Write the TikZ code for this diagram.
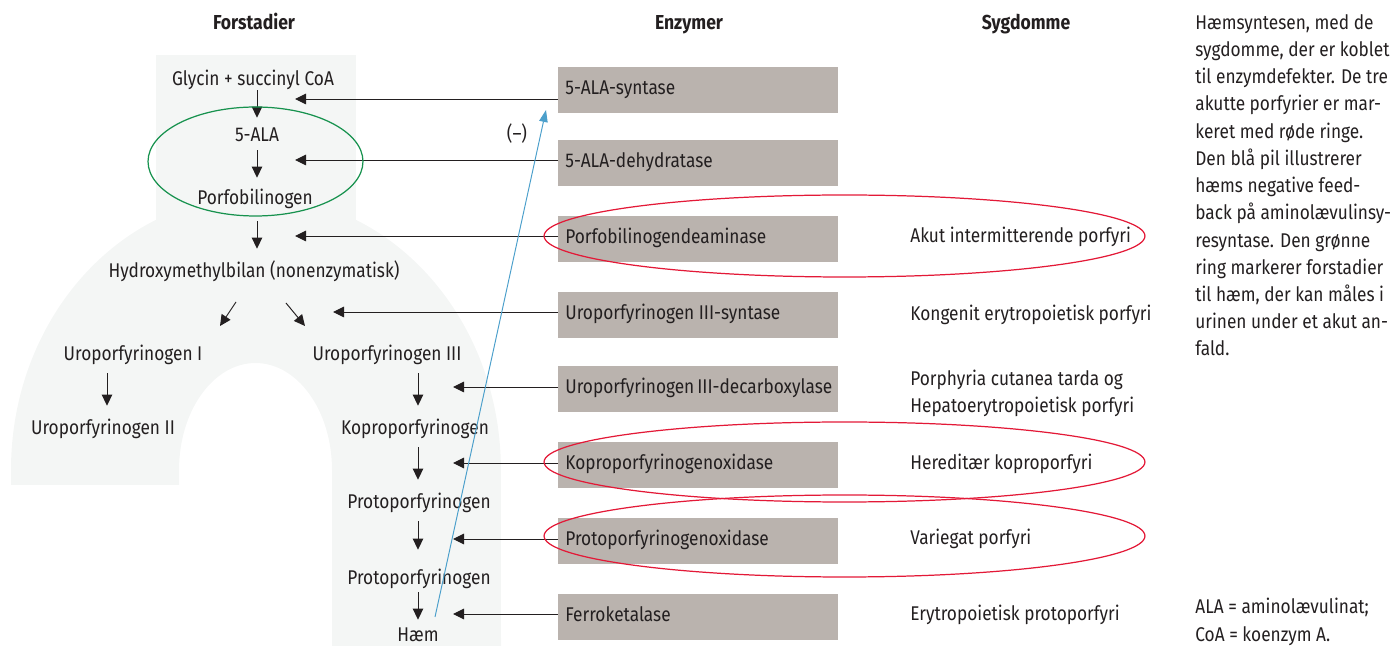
\documentclass[tikz,border=0pt]{standalone}
\usepackage{fontspec}
\setmainfont{Fira Sans}[FakeStretch=0.87]
\usetikzlibrary{arrows.meta,positioning}
\exhyphenpenalty=10000
\hyphenpenalty=10000
\hfuzz=20pt
\definecolor{bggrey}{HTML}{F4F6F5}
\definecolor{enzgrey}{HTML}{BAB3AE}
\definecolor{ringred}{HTML}{E31937}
\definecolor{ringgreen}{HTML}{17924E}
\definecolor{fbblue}{HTML}{4B9FCB}
\definecolor{ink}{HTML}{231F20}
\tikzset{
  txt/.style={inner sep=0pt, text=ink, font=\fontsize{11.3}{15.5}\selectfont, text height=0.28cm, text depth=0.08cm},
  head/.style={txt, font=\fontsize{11.5}{15.5}\selectfont\bfseries},
  precursor/.style={txt, anchor=base},
  disease/.style={txt, anchor=base west, align=flush left},
  enzbox/.style={txt, anchor=west, fill=enzgrey, minimum width=5.6cm, minimum height=0.92cm,
    text width=5.32cm, inner xsep=0.14cm, align=flush left},
  flow/.style={draw=ink, line width=0.55pt, -{Triangle[length=0.22cm,width=0.21cm]}},
  pathway/.style={flow, shorten <=0.16cm, shorten >=0.3cm},
  ring/.style={line width=0.7pt}
}
\begin{document}
\begin{tikzpicture}[x=0.02cm,y=0.02cm]
    \useasboundingbox (0,0) rectangle (1397,646);
    %background
    \fill[bggrey] (156,400) rectangle (356,591);
    \fill[bggrey] (11,161) -- (11,176) arc[start angle=180,end angle=0,x radius=4.9cm,y radius=5.48cm]
        -- (501,0) -- (332,0) -- (332,176) arc[start angle=0,end angle=180,x radius=1.53cm,y radius=2.14cm]
        -- (179,161) -- cycle;
    %headings
    \node[head, anchor=base] (hforst) at (254,616) {Forstadier};
    \node[head, anchor=base] (henz) at (689,616) {Enzymer};
    \node[head, anchor=base] (hsyg) at (1026,616) {Sygdomme};
    %precursors
    \node[precursor] (glycin) at (253,560) {Glycin + succinyl CoA};
    \node[precursor] (ala) at (257,504) {5-ALA};
    \node[precursor] (pbg) at (255,441) {Porfobilinogen};
    \node[precursor] (hmb) at (254,368) {Hydroxymethylbilan (nonenzymatisk)};
    \node[precursor] (uroI) at (133,285) {Uroporfyrinogen I};
    \node[precursor] (uroIII) at (387,285) {Uroporfyrinogen III};
    \node[precursor] (uroII) at (103,211) {Uroporfyrinogen II};
    \node[precursor] (kopro) at (415,211) {Koproporfyrinogen};
    \node[precursor] (protoA) at (419,137) {Protoporfyrinogen};
    \node[precursor] (protoB) at (419,61) {Protoporfyrinogen};
    \node[precursor] (haem) at (418,4) {Hæm};
    %pathway arrows
    \draw[pathway, shorten <=0cm, shorten >=0.2cm] (glycin.south -| ala) -- (ala.north);
    \draw[pathway, shorten <=0.08cm, shorten >=0.26cm] (ala.south) -- (ala.south |- pbg.north);
    \draw[pathway, shorten <=0.24cm] (pbg.south -| ala) -- (hmb.north -| ala);
    \draw[flow] ([xshift=-0.36cm,yshift=-0.48cm]hmb.base) -- ++(-16,-24);
    \draw[flow] ([xshift=0.64cm,yshift=-0.5cm]hmb.base) -- ++(19,-23);
    \draw[pathway] ([xshift=0.08cm]uroI.south -| uroII) -- ([xshift=0.08cm]uroII.north);
    \draw[pathway] (uroIII.south -| haem) -- (kopro.north -| haem);
    \draw[pathway] (kopro.south -| haem) -- (protoA.north -| haem);
    \draw[pathway, shorten >=0.42cm] (protoA.south -| haem) -- (protoB.north -| haem);
    \draw[pathway, shorten <=0.06cm, shorten >=0.16cm] (protoB.south -| haem) -- (haem.north);
    %enzymes
    \node[enzbox] (e1) at (558,556) {5-ALA-syntase};
    \node[enzbox] (e2) at (558,483) {5-ALA-dehydratase};
    \node[enzbox] (e3) at (558,407) {Porfobilinogendeaminase};
    \node[enzbox] (e4) at (558,331) {Uroporfyrinogen III-syntase};
    \node[enzbox] (e5) at (558,257) {Uroporfyrinogen~III-decarboxylase};
    \node[enzbox] (e6) at (558,181) {Koproporfyrinogenoxidase};
    \node[enzbox] (e7) at (558,105) {Protoporfyrinogenoxidase};
    \node[enzbox] (e8) at (558,29) {Ferroketalase};
    %enzyme arrows
    \coordinate (t1) at (295,547);
    \coordinate (t2) at (295,486);
    \coordinate (t3) at (295,410);
    \coordinate (t4) at (333,334);
    \coordinate (t5) at (453,259);
    \coordinate (t6) at (453,183);
    \coordinate (t7) at (453,107);
    \coordinate (t8) at (453,32);
    \foreach \i in {1,...,8}
        \draw[flow] (e\i.west |- t\i) -- (t\i);
    %diseases
    \node[disease] (d3) at (910,403) {Akut intermitterende porfyri};
    \node[disease] (d4) at (910,325) {Kongenit erytropoietisk porfyri};
    \node[disease] (d5) at (910,233) {Porphyria cutanea tarda og\\Hepatoerytropoietisk porfyri};
    \node[disease] (d6) at (910,176) {Hereditær koproporfyri};
    \node[disease] (d7) at (910,101) {Variegat porfyri};
    \node[disease] (d8) at (910,25) {Erytropoietisk protoporfyri};
    %rings
    \draw[ring, ringgreen] (255.5,484.5) ellipse[x radius=2.15cm, y radius=1.09cm];
    \draw[ring, ringred] (844.5,410) ellipse[x radius=6.01cm, y radius=0.82cm];
    \draw[ring, ringred] (844.5,184) ellipse[x radius=6.01cm, y radius=0.8cm];
    \draw[ring, ringred] (844.5,110) ellipse[x radius=6.01cm, y radius=0.82cm];
    %feedback
    \coordinate (fbstart) at (435,29);
    \coordinate (fbend) at (546,536);
    \draw[fbblue, line width=0.55pt, -{Triangle[length=0.24cm,width=0.17cm]}] (fbstart) -- (fbend);
    \node[txt, anchor=base] (minus) at (517,505) {(–)};
    %caption (base = last line)
    \node[disease] (caption) at (1195,290) {Hæmsyntesen, med de\\sygdomme, der er koblet\\til enzymdefekter. De tre\\akutte porfyrier er mar-\\keret med røde ringe.\\Den blå pil illustrerer\\hæms negative feed-\\back på aminolævulinsy-\\resyntase. Den grønne\\ring markerer forstadier\\til hæm, der kan måles i\\urinen under et akut an-\\fald.};
    \node[disease] (abbrev) at (1195,5) {ALA = aminolævulinat;\\CoA = koenzym A.};
\end{tikzpicture}
\end{document}
